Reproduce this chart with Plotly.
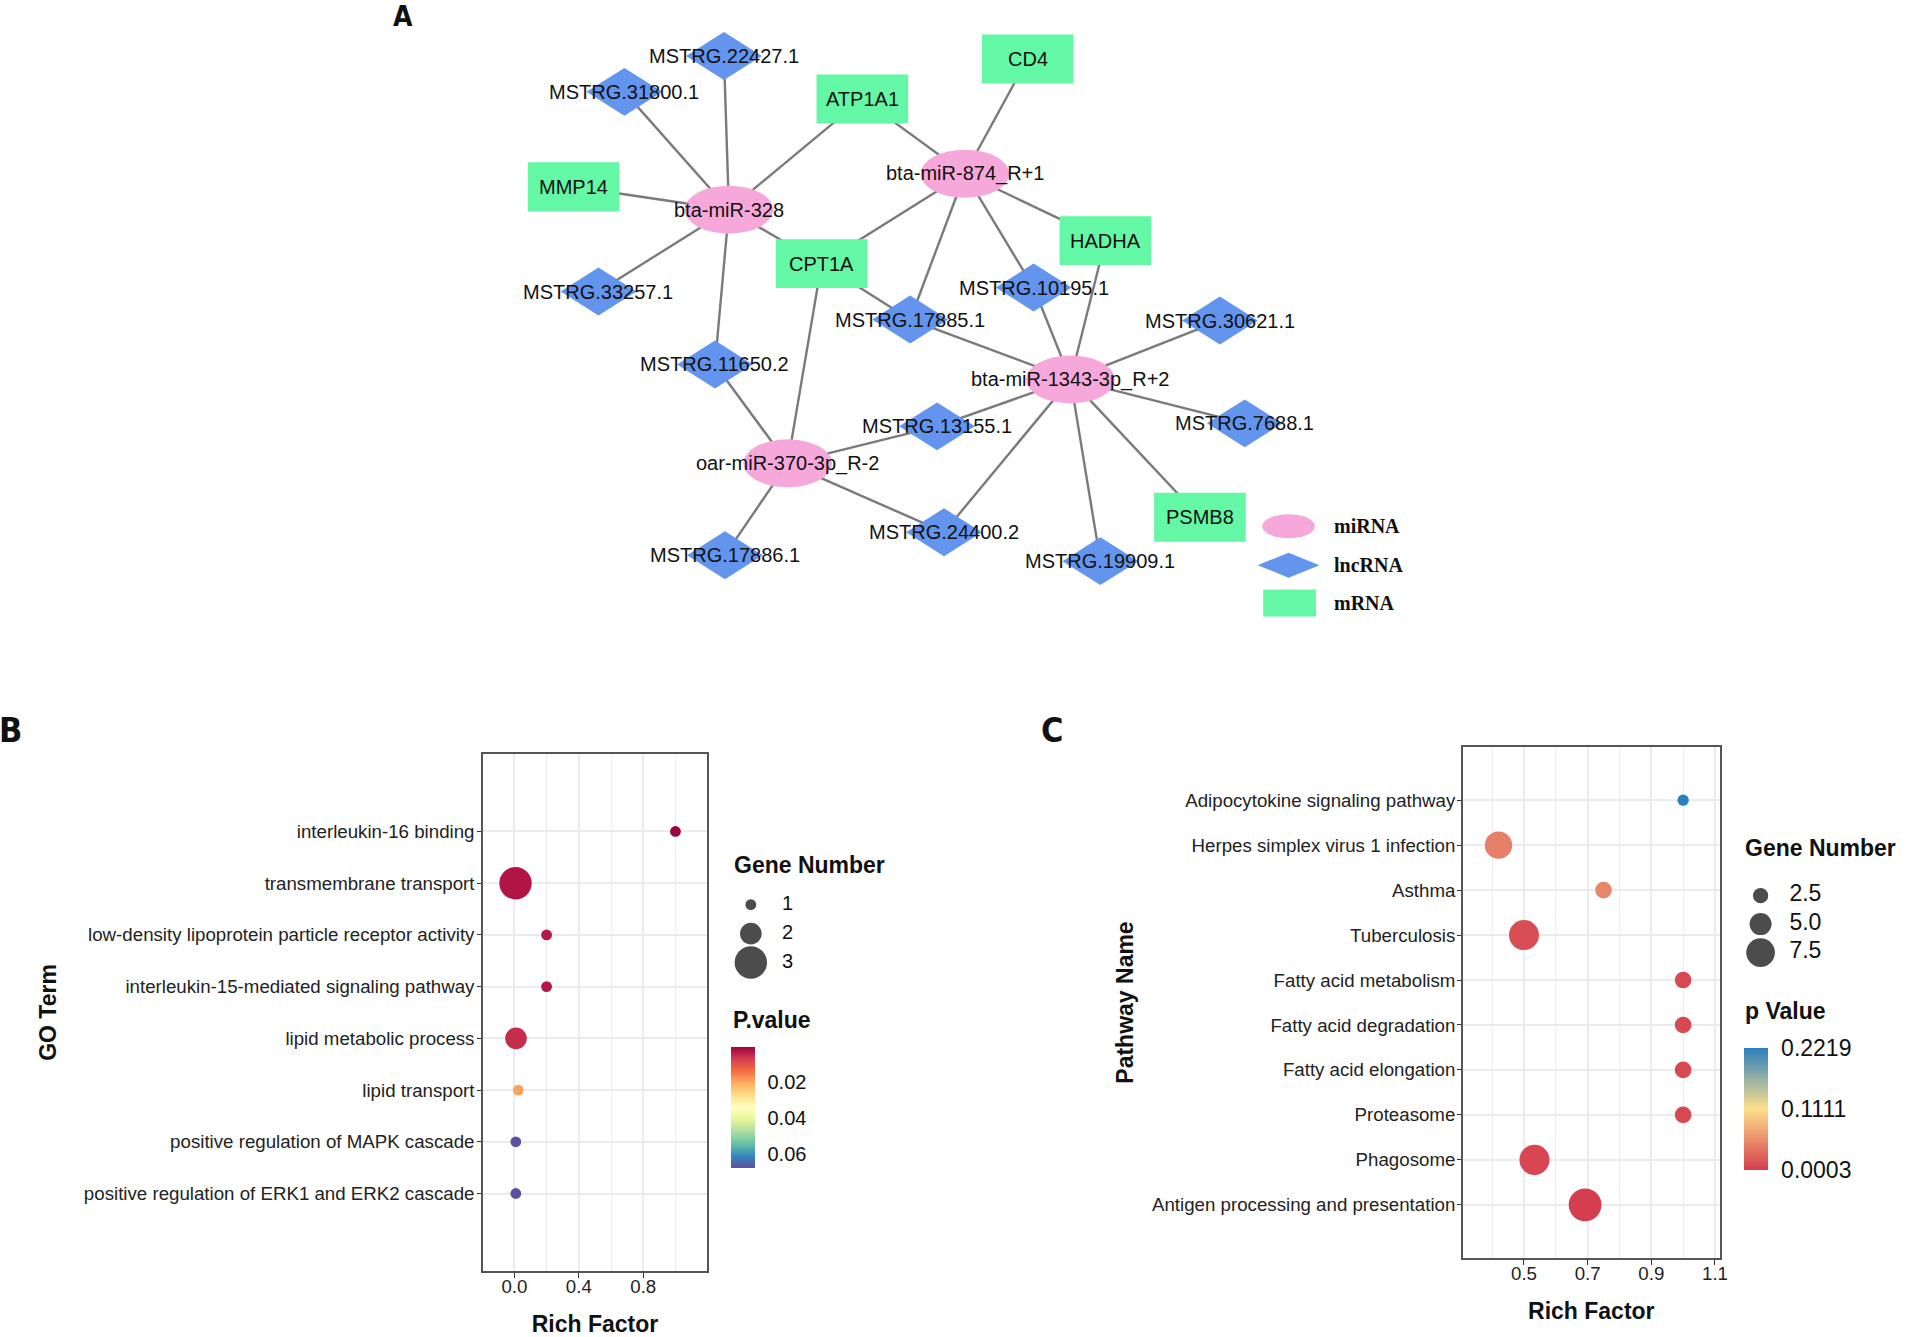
import plotly.graph_objects as go

W, H = 1907, 1337

# ======================= DATA =======================
# ---- Panel A: miRNA-lncRNA-mRNA network ----
mirna_nodes = ["bta-miR-328", "bta-miR-874_R+1", "bta-miR-1343-3p_R+2", "oar-miR-370-3p_R-2"]
lncrna_nodes = ["MSTRG.22427.1", "MSTRG.31800.1", "MSTRG.33257.1", "MSTRG.11650.2",
                "MSTRG.17885.1", "MSTRG.10195.1", "MSTRG.30621.1", "MSTRG.7688.1",
                "MSTRG.13155.1", "MSTRG.24400.2", "MSTRG.17886.1", "MSTRG.19909.1"]
mrna_nodes = ["CD4", "ATP1A1", "MMP14", "CPT1A", "HADHA", "PSMB8"]

edge_source = ["bta-miR-328"] * 7 + ["bta-miR-874_R+1"] * 6 + ["bta-miR-1343-3p_R+2"] * 9 + \
              ["oar-miR-370-3p_R-2"] * 5 + ["CPT1A"]
edge_target = ["MSTRG.22427.1", "MSTRG.31800.1", "MMP14", "ATP1A1", "CPT1A", "MSTRG.33257.1", "MSTRG.11650.2",
               "ATP1A1", "CD4", "CPT1A", "HADHA", "MSTRG.17885.1", "MSTRG.10195.1",
               "MSTRG.10195.1", "HADHA", "MSTRG.17885.1", "MSTRG.30621.1", "MSTRG.7688.1", "PSMB8",
               "MSTRG.19909.1", "MSTRG.24400.2", "MSTRG.13155.1",
               "MSTRG.11650.2", "CPT1A", "MSTRG.13155.1", "MSTRG.24400.2", "MSTRG.17886.1",
               "MSTRG.17885.1"]

# ---- Panel B: GO enrichment ----
go_terms = ["interleukin-16 binding", "transmembrane transport",
            "low-density lipoprotein particle receptor activity",
            "interleukin-15-mediated signaling pathway", "lipid metabolic process",
            "lipid transport", "positive regulation of MAPK cascade",
            "positive regulation of ERK1 and ERK2 cascade"]
go_rich = [1.0, 0.007, 0.2, 0.2, 0.01, 0.024, 0.009, 0.009]
go_genes = [1, 3, 1, 1, 2, 1, 1, 1]
go_pvalue = [0.0006, 0.0028, 0.0032, 0.0032, 0.0054, 0.0195, 0.0678, 0.0678]
go_size_breaks = [1, 2, 3]
go_p_ticks = [0.02, 0.04, 0.06]

# ---- Panel C: KEGG enrichment ----
kegg_paths = ["Adipocytokine signaling pathway", "Herpes simplex virus 1 infection", "Asthma",
              "Tuberculosis", "Fatty acid metabolism", "Fatty acid degradation",
              "Fatty acid elongation", "Proteasome", "Phagosome",
              "Antigen processing and presentation"]
kegg_rich = [1.0, 0.42, 0.75, 0.5, 1.0, 1.0, 1.0, 1.0, 0.533, 0.692]
kegg_genes = [1, 7, 3, 8, 3, 3, 3, 3, 8, 9]
kegg_pvalue = [0.2219, 0.045, 0.05, 0.011, 0.007, 0.007, 0.007, 0.007, 0.006, 0.0003]
kegg_size_breaks = [2.5, 5.0, 7.5]

# ======================= LAYOUT / STYLE =======================
# graph layout of the network (figure pixel frame)
node_layout = {
    "bta-miR-328": (732, 210), "bta-miR-874_R+1": (969, 174),
    "bta-miR-1343-3p_R+2": (1075, 380), "oar-miR-370-3p_R-2": (791, 464),
    "MSTRG.22427.1": (727, 56), "MSTRG.31800.1": (627, 92), "MSTRG.33257.1": (601, 292),
    "MSTRG.11650.2": (718, 365), "MSTRG.17885.1": (914, 320), "MSTRG.10195.1": (1038, 288),
    "MSTRG.30621.1": (1225, 321), "MSTRG.7688.1": (1250, 424), "MSTRG.13155.1": (941, 427),
    "MSTRG.24400.2": (948, 533), "MSTRG.17886.1": (728, 556), "MSTRG.19909.1": (1105, 562),
    "CD4": (1032, 59), "ATP1A1": (866, 99), "MMP14": (576, 187), "CPT1A": (825, 264),
    "HADHA": (1110, 241), "PSMB8": (1205, 518),
}
node_style = {
    "miRNA": dict(shape="ellipse", w=89, h=48, color="#F7A8DA"),
    "lncRNA": dict(shape="diamond", w=76, h=48, color="#6394EE"),
    "mRNA": dict(shape="rect", w=92, h=49, color="#63F7A6"),
}
legend_key = {"miRNA": (1294, 527, 53, 24), "lncRNA": (1294, 566, 62, 25), "mRNA": (1295, 604, 53, 27)}
legend_text_x = 1338

FONT = "Liberation Sans, Arial, sans-serif"
LETTER_FONT = "Liberation Sans Narrow, DejaVu Sans Condensed, Liberation Sans, Arial"
SPECTRAL = ['#9E0142', '#D53E4F', '#F46D43', '#FDAE61', '#FEE08B', '#FFFFBF',
            '#E6F598', '#ABDDA4', '#66C2A5', '#3288BD', '#5E4FA2']


def dom_x(a, b):
    return [a / W, b / W]


def dom_y(top, bottom):
    return [1 - bottom / H, 1 - top / H]


def lin_range(pa, pb, v1, p1, v2, p2):
    s = (v2 - v1) / (p2 - p1)
    return [v1 + (pa - p1) * s, v1 + (pb - p1) * s]


def size_b(g):
    return 10.8 * g


def size_c(g):
    return 8.6 + 2.68 * g


fig = go.Figure()

# ----------------------- Panel A -----------------------
node_type = {}
for n in mirna_nodes:
    node_type[n] = "miRNA"
for n in lncrna_nodes:
    node_type[n] = "lncRNA"
for n in mrna_nodes:
    node_type[n] = "mRNA"

ex, ey = [], []
for s, t in zip(edge_source, edge_target):
    ex += [node_layout[s][0], node_layout[t][0], None]
    ey += [node_layout[s][1], node_layout[t][1], None]
fig.add_trace(go.Scatter(x=ex, y=ey, mode="lines", xaxis="x3", yaxis="y3",
                         line=dict(color="#7A7A7A", width=2.4), hoverinfo="skip"))


def node_shape(kind, x, y, w, h, color):
    base = dict(xref="x3", yref="y3", layer="above", fillcolor=color, line=dict(width=0))
    if kind == "ellipse":
        base.update(type="circle", x0=x - w / 2, x1=x + w / 2, y0=y - h / 2, y1=y + h / 2)
    elif kind == "rect":
        base.update(type="rect", x0=x - w / 2, x1=x + w / 2, y0=y - h / 2, y1=y + h / 2)
    else:
        base.update(type="path",
                    path=f"M {x - w / 2},{y} L {x},{y - h / 2} L {x + w / 2},{y} L {x},{y + h / 2} Z")
    return base


shapes = []
annotations = []
for name in mirna_nodes + lncrna_nodes + mrna_nodes:
    st = node_style[node_type[name]]
    x, y = node_layout[name]
    shapes.append(node_shape(st["shape"], x, y, st["w"], st["h"], st["color"]))
    annotations.append(dict(x=x, y=y, xref="x3", yref="y3", text=name, showarrow=False,
                            font=dict(family=FONT, size=20, color="#111111"),
                            xanchor="center", yanchor="middle"))

for label in ["miRNA", "lncRNA", "mRNA"]:
    st = node_style[label]
    kx, ky, kw, kh = legend_key[label]
    shapes.append(node_shape(st["shape"], kx, ky, kw, kh, st["color"]))
    annotations.append(dict(x=legend_text_x, y=ky, xref="x3", yref="y3", text=label, showarrow=False,
                            font=dict(family="Liberation Serif, Times New Roman, serif", size=20,
                                      color="#111111", weight="bold"),
                            xanchor="left", yanchor="middle"))

# ----------------------- Panel B -----------------------
fig.add_trace(go.Scatter(
    x=go_rich, y=go_terms, mode="markers", xaxis="x", yaxis="y",
    marker=dict(size=[size_b(g) for g in go_genes], color=[-p for p in go_pvalue],
                coloraxis="coloraxis", line=dict(width=0), opacity=1),
    hoverinfo="skip"))

# size legend B
fig.add_trace(go.Scatter(x=[0] * len(go_size_breaks), y=go_size_breaks, mode="markers",
                         xaxis="x4", yaxis="y4",
                         marker=dict(size=[size_b(g) for g in go_size_breaks], color="black",
                                     line=dict(width=0)), hoverinfo="skip"))
fig.add_trace(go.Scatter(x=[1] * len(go_size_breaks), y=go_size_breaks, mode="text",
                         text=[str(g) for g in go_size_breaks], textposition="middle center",
                         textfont=dict(family=FONT, size=20, color="#111111"),
                         xaxis="x4", yaxis="y4", hoverinfo="skip"))

# ----------------------- Panel C -----------------------
fig.add_trace(go.Scatter(
    x=kegg_rich, y=kegg_paths, mode="markers", xaxis="x2", yaxis="y2",
    marker=dict(size=[size_c(g) for g in kegg_genes], color=kegg_pvalue,
                coloraxis="coloraxis2", line=dict(width=0), opacity=1),
    hoverinfo="skip"))

fig.add_trace(go.Scatter(x=[0] * len(kegg_size_breaks), y=kegg_size_breaks, mode="markers",
                         xaxis="x5", yaxis="y5",
                         marker=dict(size=[size_c(g) for g in kegg_size_breaks], color="black",
                                     line=dict(width=0)), hoverinfo="skip"))
fig.add_trace(go.Scatter(x=[1] * len(kegg_size_breaks), y=kegg_size_breaks, mode="text",
                         text=[f"{g:.1f}" for g in kegg_size_breaks], textposition="middle center",
                         textfont=dict(family=FONT, size=23, color="#111111"),
                         xaxis="x5", yaxis="y5", hoverinfo="skip"))

# ----------------------- axes -----------------------
TICKFONT = dict(family=FONT, size=18.7, color="#222222")
TITLEFONT = dict(family=FONT, size=23, color="#111111", weight="bold")
BORDER = "#555555"
GRID = "#EBEBEB"

common_x = dict(showline=True, linecolor=BORDER, linewidth=1.5, mirror=True,
                ticks="outside", ticklen=5, tickwidth=1.4, tickcolor="#333333",
                showgrid=True, gridcolor=GRID, gridwidth=1.5, zeroline=False,
                tickfont=TICKFONT, fixedrange=True, ticklabelstandoff=-7)
common_y = dict(type="category", showline=True, linecolor=BORDER, linewidth=1.5, mirror=True,
                ticks="outside", ticklen=4, tickwidth=1.4, tickcolor="#333333",
                showgrid=True, gridcolor=GRID, gridwidth=1.7, zeroline=False,
                tickfont=TICKFONT, fixedrange=True, categoryorder="array")

go_x_ticks = [0.0, 0.4, 0.8]
go_x_minor = [0.2, 0.6, 1.0]
kegg_x_ticks = [0.5, 0.7, 0.9, 1.1]
kegg_x_minor = [0.4, 0.6, 0.8, 1.0]

nB = len(go_terms)
nC = len(kegg_paths)
kegg_p_ticks = [min(kegg_pvalue), (min(kegg_pvalue) + max(kegg_pvalue)) / 2, max(kegg_pvalue)]

fig.update_layout(
    width=W, height=H, margin=dict(l=0, r=0, t=0, b=0),
    paper_bgcolor="white", plot_bgcolor="white", showlegend=False,
    font=dict(family=FONT, color="#111111"),
    xaxis=dict(common_x, domain=dom_x(485, 710), range=[-0.195, 1.196], anchor="y",
               tickvals=go_x_ticks, ticktext=[f"{v:.1f}" for v in go_x_ticks],
               minor=dict(tickvals=go_x_minor, showgrid=True, gridcolor=GRID, gridwidth=1.0, ticks=""),
               title=dict(text="Rich Factor", font=TITLEFONT, standoff=24)),
    yaxis=dict(common_y, domain=dom_y(755, 1273), anchor="x", categoryarray=go_terms,
               range=[nB - 1 + 1.5, -1.5], ticklabelstandoff=-1,
               title=dict(text="GO Term", font=TITLEFONT, standoff=21)),
    xaxis2=dict(common_x, domain=dom_x(1469, 1727), range=[0.308, 1.115], anchor="y2",
                tickvals=kegg_x_ticks, ticktext=[f"{v:.1f}" for v in kegg_x_ticks],
                minor=dict(tickvals=kegg_x_minor, showgrid=True, gridcolor=GRID, gridwidth=1.0, ticks=""),
                title=dict(text="Rich Factor", font=TITLEFONT, standoff=20)),
    yaxis2=dict(common_y, domain=dom_y(748, 1260), anchor="x2", categoryarray=kegg_paths,
                range=[nC - 1 + 1.185, -1.185], ticklabelstandoff=-2,
                title=dict(text="Pathway Name", font=TITLEFONT, standoff=12)),
    xaxis3=dict(domain=[0, 1], range=[0, W], visible=False, fixedrange=True, anchor="y3"),
    yaxis3=dict(domain=[0.5, 1], range=[H * 0.5, 0], visible=False, fixedrange=True, anchor="x3"),
    xaxis4=dict(domain=dom_x(730, 830), range=lin_range(730, 830, 0, 754, 1, 791),
                visible=False, fixedrange=True, anchor="y4"),
    yaxis4=dict(domain=dom_y(880, 990), range=lin_range(990, 880, 1, 906, 3, 964),
                visible=False, fixedrange=True, anchor="x4"),
    xaxis5=dict(domain=dom_x(1745, 1860), range=lin_range(1745, 1860, 0, 1768, 1, 1813),
                visible=False, fixedrange=True, anchor="y5"),
    yaxis5=dict(domain=dom_y(875, 975), range=lin_range(975, 875, 2.5, 897, 7.5, 954),
                visible=False, fixedrange=True, anchor="x5"),
    coloraxis=dict(
        cmin=-max(go_pvalue), cmax=-min(go_pvalue),
        colorscale=[[i / (len(SPECTRAL) - 1), c] for i, c in enumerate(SPECTRAL[::-1])],
        colorbar=dict(x=734 / W, xanchor="left", y=1 - 1170 / H, yanchor="bottom",
                      len=121, lenmode="pixels", thickness=24, thicknessmode="pixels",
                      xpad=0, ypad=0, outlinewidth=0,
                      tickvals=[-v for v in go_p_ticks], ticktext=[f"{v:.2f}" for v in go_p_ticks],
                      ticks="outside", ticklen=9, tickcolor="rgba(0,0,0,0)",
                      tickfont=dict(family=FONT, size=20, color="#111111"))),
    coloraxis2=dict(
        cmin=min(kegg_pvalue), cmax=max(kegg_pvalue),
        colorscale=[[0, "#D53E4F"], [0.5, "#FEE08B"], [1, "#2B7FBC"]],
        colorbar=dict(x=1751 / W, xanchor="left", y=1 - 1172 / H, yanchor="bottom",
                      len=122, lenmode="pixels", thickness=24, thicknessmode="pixels",
                      xpad=0, ypad=0, outlinewidth=0,
                      tickvals=kegg_p_ticks, ticktext=[f"{v:.4f}" for v in kegg_p_ticks],
                      ticks="outside", ticklen=9, tickcolor="rgba(0,0,0,0)",
                      tickfont=dict(family=FONT, size=23, color="#111111"))),
)

# legend titles and panel letters
annotations += [
    dict(x=735 / W, y=1 - 866 / H, xref="paper", yref="paper", text="Gene Number", showarrow=False,
         xanchor="left", yanchor="middle", font=TITLEFONT),
    dict(x=1750 / W, y=1 - 849 / H, xref="paper", yref="paper", text="Gene Number", showarrow=False,
         xanchor="left", yanchor="middle", font=TITLEFONT),
    dict(x=734 / W, y=1 - 1022 / H, xref="paper", yref="paper", text="P.value", showarrow=False,
         xanchor="left", yanchor="middle", font=TITLEFONT),
    dict(x=1750 / W, y=1 - 1013 / H, xref="paper", yref="paper", text="p Value", showarrow=False,
         xanchor="left", yanchor="middle", font=TITLEFONT),
    dict(x=405 / W, y=1 - 17 / H, xref="paper", yref="paper", text="A", showarrow=False,
         xanchor="center", yanchor="middle", font=dict(family=LETTER_FONT, size=28, weight="bold", color="#111")),
    dict(x=11 / W, y=1 - 731 / H, xref="paper", yref="paper", text="B", showarrow=False,
         xanchor="center", yanchor="middle", font=dict(family=LETTER_FONT, size=34, weight="bold", color="#111")),
    dict(x=1056 / W, y=1 - 731 / H, xref="paper", yref="paper", text="C", showarrow=False,
         xanchor="center", yanchor="middle", font=dict(family=LETTER_FONT, size=34, weight="bold", color="#111")),
]

fig.update_layout(shapes=shapes, annotations=annotations)

fig.write_html("out.html", config={"displayModeBar": False},
               post_script="document.body.style.margin='0';document.body.style.overflow='hidden';"
                           "document.documentElement.style.overflow='hidden';")
